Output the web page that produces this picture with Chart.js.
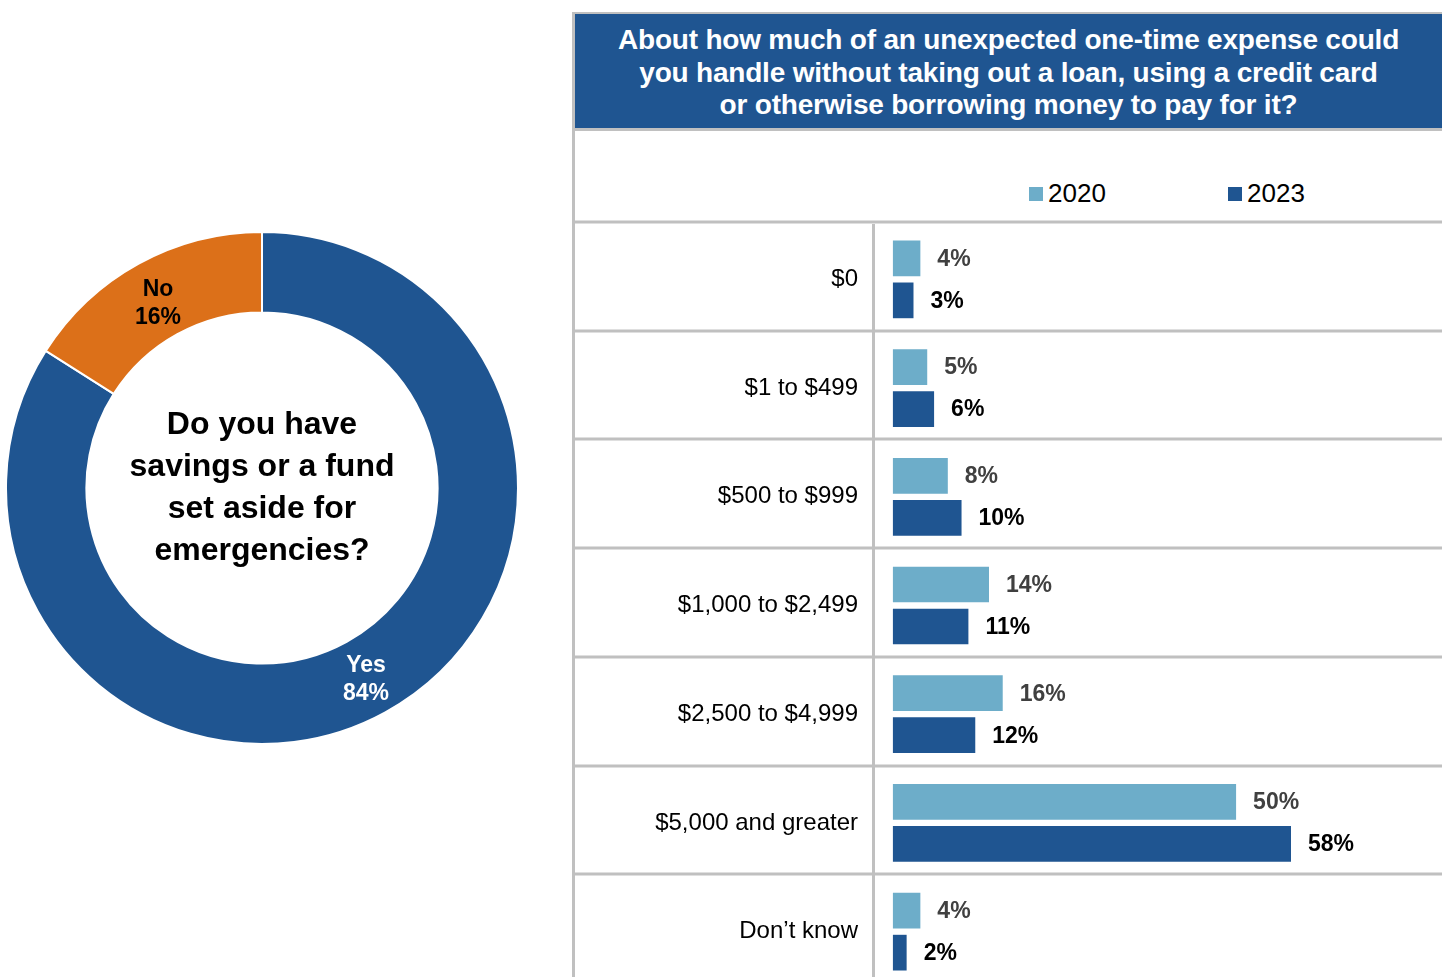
<!DOCTYPE html>
<html lang="en">
<head>
  <meta charset="UTF-8">
  <title>Emergency savings</title>
  <script src="https://cdn.jsdelivr.net/npm/chart.js"></script>
  <style>
    body { margin: 0; width: 1442px; height: 977px; overflow: hidden; background: #fff;
           font-family: Arial, "Liberation Sans", sans-serif; position: relative; }
    .abs { position: absolute; }
    .gray { background: #c0c0c0; }
    #header { left: 575px; top: 14px; width: 867px; height: 114px; background: #1f5591; color: #fff;
              font-weight: bold; font-size: 28px; line-height: 32.5px; text-align: center;
              box-sizing: border-box; padding-top: 10px; letter-spacing: -0.2px; }
    .legend-item { position: absolute; top: 178px; font-size: 26px; line-height: 30px; color: #000; }
    .legend-item i { display: inline-block; width: 14px; height: 14px; margin-right: 5px; vertical-align: 1px; }
  </style>
</head>
<body>
  <!-- left: doughnut -->
  <div class="abs" style="left:5px; top:231px;">
    <canvas id="donut" width="514" height="514"></canvas>
  </div>

  <!-- right: framed table with header and legend -->
  <div class="abs gray" style="left:572px; top:12px; width:3px; height:965px;"></div>
  <div class="abs gray" style="left:572px; top:12px; width:870px; height:2px;"></div>
  <div id="header" class="abs">
    About how much of an unexpected one-time expense could<br>
    you handle without taking out a loan, using a credit card<br>
    or otherwise borrowing money to pay for it?
  </div>
  <div class="abs gray" style="left:575px; top:128px; width:867px; height:3px;"></div>
  <div id="legend"></div>

  <div class="abs" style="left:575px; top:220px;">
    <canvas id="bars" width="867" height="768"></canvas>
  </div>

  <script>
    // doughnut: emergency fund
    const answerLabels = ['Yes', 'No'];
    const answerShares = [84, 16];
    const centerLines = ['Do you have', 'savings or a fund', 'set aside for', 'emergencies?'];

    // bars: expense that could be handled
    const amountLabels = ['$0', '$1 to $499', '$500 to $999', '$1,000 to $2,499',
                          '$2,500 to $4,999', '$5,000 and greater', 'Don\u2019t know'];
    const years = ['2020', '2023'];
    const share2020 = [4, 5, 8, 14, 16, 50, 4];
    const share2023 = [3, 6, 10, 11, 12, 58, 2];

    const darkBlue = '#1f5591';
    const lightBlue = '#6dadc9';
    const orange = '#dc7019';
    const gridGray = '#c0c0c0';
    const fontFamily = 'Arial, "Liberation Sans", sans-serif';

    Chart.defaults.font.family = fontFamily;

    // legend in the header row
    const legendEl = document.getElementById('legend');
    [[years[0], lightBlue, 1029], [years[1], darkBlue, 1228]].forEach(([txt, col, left]) => {
      const d = document.createElement('div');
      d.className = 'legend-item';
      d.style.left = left + 'px';
      d.innerHTML = '<i style="background:' + col + '"></i>' + txt;
      legendEl.appendChild(d);
    });

    // labels in the middle of each ring slice
    const sliceLabels = {
      id: 'sliceLabels',
      afterDatasetsDraw(chart) {
        const ctx = chart.ctx;
        const colors = ['#fff', '#000'];
        const nudge = [0, 2];
        ctx.save();
        ctx.font = 'bold 23px ' + fontFamily;
        ctx.textAlign = 'center';
        ctx.textBaseline = 'middle';
        chart.getDatasetMeta(0).data.forEach((arc, i) => {
          const p = arc.getCenterPoint();
          ctx.fillStyle = colors[i];
          ctx.fillText(answerLabels[i], p.x, p.y - 11 + nudge[i]);
          ctx.fillText(answerShares[i] + '%', p.x, p.y + 17 + nudge[i]);
        });
        ctx.restore();
      }
    };

    // question in the hole
    const centerText = {
      id: 'centerText',
      afterDraw(chart) {
        const arc = chart.getDatasetMeta(0).data[0];
        const ctx = chart.ctx;
        ctx.save();
        ctx.font = 'bold 32px ' + fontFamily;
        ctx.fillStyle = '#000';
        ctx.textAlign = 'center';
        ctx.textBaseline = 'middle';
        centerLines.forEach((line, i) => {
          ctx.fillText(line, arc.x, arc.y - 63 + i * 42);
        });
        ctx.restore();
      }
    };

    new Chart(document.getElementById('donut'), {
      type: 'doughnut',
      data: {
        labels: answerLabels,
        datasets: [{
          data: answerShares,
          backgroundColor: [darkBlue, orange],
          borderColor: '#fff',
          borderWidth: 2
        }]
      },
      options: {
        responsive: false,
        animation: false,
        cutout: '68.6%',
        plugins: { legend: { display: false }, tooltip: { enabled: false } }
      },
      plugins: [sliceLabels, centerText]
    });

    // horizontal rules between rows, across the label column too
    // (bar pairs sit a little below the middle of their row)
    const rowLines = {
      id: 'rowLines',
      beforeDatasetsDraw(chart) {
        const y = chart.scales.y;
        const ctx = chart.ctx;
        ctx.save();
        ctx.strokeStyle = gridGray;
        ctx.lineWidth = 3;
        for (let i = 0; i <= amountLabels.length; i++) {
          const py = Math.round(y.getPixelForValue(i - 0.5)) - 3;
          ctx.beginPath();
          ctx.moveTo(0, py);
          ctx.lineTo(chart.width, py);
          ctx.stroke();
        }
        ctx.restore();
      }
    };

    // percentage after each bar
    const barValues = {
      id: 'barValues',
      afterDatasetsDraw(chart) {
        const ctx = chart.ctx;
        const colors = ['#404040', '#000'];
        ctx.save();
        ctx.font = 'bold 23px ' + fontFamily;
        ctx.textBaseline = 'middle';
        chart.data.datasets.forEach((ds, di) => {
          ctx.fillStyle = colors[di];
          chart.getDatasetMeta(di).data.forEach((bar, i) => {
            ctx.fillText(ds.data[i] + '%', bar.x + 17, bar.y + 1);
          });
        });
        ctx.restore();
      }
    };

    new Chart(document.getElementById('bars'), {
      type: 'bar',
      data: {
        labels: amountLabels,
        datasets: [
          { label: years[0], data: share2020, backgroundColor: lightBlue },
          { label: years[1], data: share2023, backgroundColor: darkBlue }
        ]
      },
      options: {
        indexAxis: 'y',
        responsive: false,
        animation: false,
        categoryPercentage: 0.773,
        barPercentage: 0.85,
        layout: { padding: { top: 5, bottom: 2, left: 0, right: 0 } },
        scales: {
          x: { display: false, min: -2.9, max: 80 },
          y: {
            afterFit(scale) {
              scale.width = 298;
              scale.paddingTop = 0;
              scale.paddingBottom = 0;
            },
            grid: { display: false },
            border: { display: true, color: gridGray, width: 3 },
            ticks: { color: '#000', padding: 7, font: { size: 24 } }
          }
        },
        plugins: { legend: { display: false }, tooltip: { enabled: false } }
      },
      plugins: [rowLines, barValues]
    });
  </script>
</body>
</html>
